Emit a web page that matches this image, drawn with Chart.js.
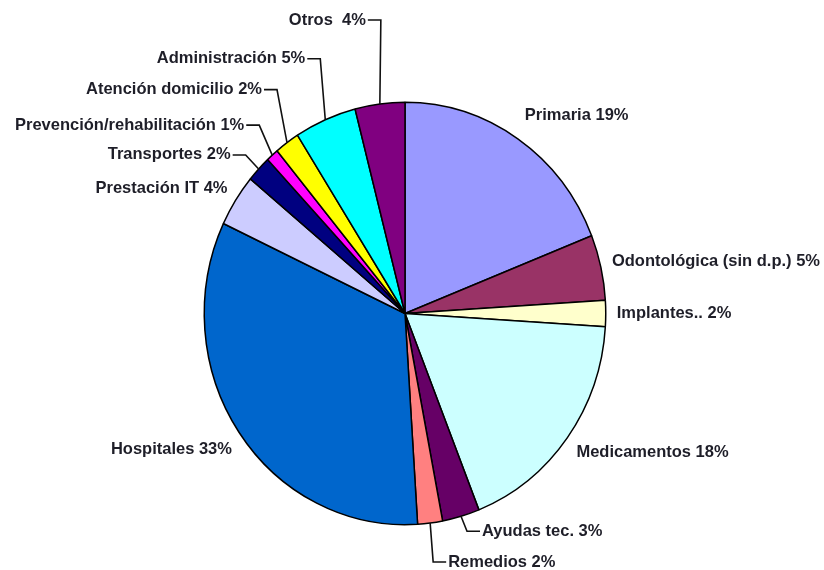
<!DOCTYPE html>
<html lang="es">
<head>
<meta charset="utf-8">
<title>Gasto sanitario por función</title>
<script src="https://cdn.jsdelivr.net/npm/chart.js@4/dist/chart.umd.min.js"></script>
<style>
  html, body { margin: 0; padding: 0; background: #fff; }
  #pieChart { display: block; }
</style>
</head>
<body>
<canvas id="pieChart" width="824" height="570"></canvas>
<script>
// chart data (percent of total, clockwise from 12 o'clock)
const categories = [
  "Primaria",
  "Odontológica (sin d.p.)",
  "Implantes..",
  "Medicamentos",
  "Ayudas tec.",
  "Remedios",
  "Hospitales",
  "Prestación IT",
  "Transportes",
  "Prevención/rehabilitación",
  "Atención domicilio",
  "Administración",
  "Otros",
];
const shares = [19, 5, 2, 18, 3, 2, 33, 4, 2, 1, 2, 5, 4];
const labelSeparators = [" ", " ", " ", " ", " ", " ", " ", " ", " ", " ", " ", " ", "  "];

// styling, kept apart from the data
const sliceColors = [
  "#9999FF", "#993366", "#FFFFCC", "#CCFFFF", "#660066", "#FF8080", "#0066CC",
  "#CCCCFF", "#000080", "#FF00FF", "#FFFF00", "#00FFFF", "#800080",
];

// the original pie is a bit taller than wide
const verticalStretch = 1.052;

// label placement relative to the slice's outer mid point
// leader: null = plain text, "elbow" = line to (dx,dy) then a short tick
const labelLayout = [
  { dx: 7, dy: -23, align: "left", leader: null },
  { dx: 11, dy: -6, align: "left", leader: null },
  { dx: 11, dy: 0, align: "left", leader: null },
  { dx: 9, dy: 15, align: "left", leader: null },
  { dx: 6, dy: 15, align: "left", leader: "elbow" },
  { dx: 3, dy: 39, align: "left", leader: "elbow" },
  { dx: -7, dy: 17, align: "right", leader: null },
  { dx: -8, dy: -12, align: "right", leader: null },
  { dx: -13, dy: -14, align: "right", leader: "elbow" },
  { dx: -13, dy: -30, align: "right", leader: "elbow" },
  { dx: -10, dy: -53, align: "right", leader: "elbow" },
  { dx: -5, dy: -61, align: "right", leader: "elbow" },
  { dx: 1, dy: -84, align: "right", leader: "elbow" },
];

const pieStretch = {
  id: "pieStretch",
  beforeDatasetsDraw(chart) {
    const { left, right, top, bottom } = chart.chartArea;
    const cx = (left + right) / 2;
    const cy = (top + bottom) / 2;
    const ctx = chart.ctx;
    ctx.save();
    ctx.translate(cx, cy);
    ctx.scale(1, verticalStretch);
    ctx.translate(-cx, -cy);
  },
  afterDatasetsDraw(chart) {
    chart.ctx.restore();
  },
};

const sliceLabels = {
  id: "sliceLabels",
  afterDraw(chart) {
    const ctx = chart.ctx;
    const arcs = chart.getDatasetMeta(0).data;
    ctx.save();
    ctx.font = "bold 16.5px 'Liberation Sans', Arial, sans-serif";
    ctx.textBaseline = "middle";
    ctx.fillStyle = "#1e1e28";
    ctx.strokeStyle = "#111";
    ctx.lineWidth = 1.6;

    arcs.forEach((arc, i) => {
      const { x, y, startAngle, endAngle, outerRadius } = arc.getProps(
        ["x", "y", "startAngle", "endAngle", "outerRadius"],
        true
      );
      const mid = (startAngle + endAngle) / 2;
      const ex = x + Math.cos(mid) * outerRadius;
      const ey = y + Math.sin(mid) * outerRadius * verticalStretch;
      const layout = labelLayout[i];
      const text = `${categories[i]}${labelSeparators[i]}${shares[i]}%`;
      const px = ex + layout.dx;
      const py = ey + layout.dy;

      ctx.textAlign = layout.align;
      if (layout.leader) {
        const dir = layout.align === "left" ? 1 : -1;
        const tick = 13;
        ctx.beginPath();
        ctx.moveTo(ex, ey);
        ctx.lineTo(px, py);
        ctx.lineTo(px + dir * tick, py);
        ctx.stroke();
        ctx.fillText(text, px + dir * (tick + 2), py);
      } else {
        ctx.fillText(text, px, py);
      }
    });
    ctx.restore();
  },
};

new Chart(document.getElementById("pieChart"), {
  type: "pie",
  data: {
    labels: categories,
    datasets: [
      {
        data: shares,
        backgroundColor: sliceColors,
        borderColor: "#000",
        borderWidth: 1.5,
      },
    ],
  },
  options: {
    responsive: false,
    animation: false,
    layout: {
      padding: { left: 203, right: 217, top: 112, bottom: 55 },
    },
    plugins: {
      legend: { display: false },
      tooltip: { enabled: false },
    },
  },
  plugins: [pieStretch, sliceLabels],
});
</script>
</body>
</html>
